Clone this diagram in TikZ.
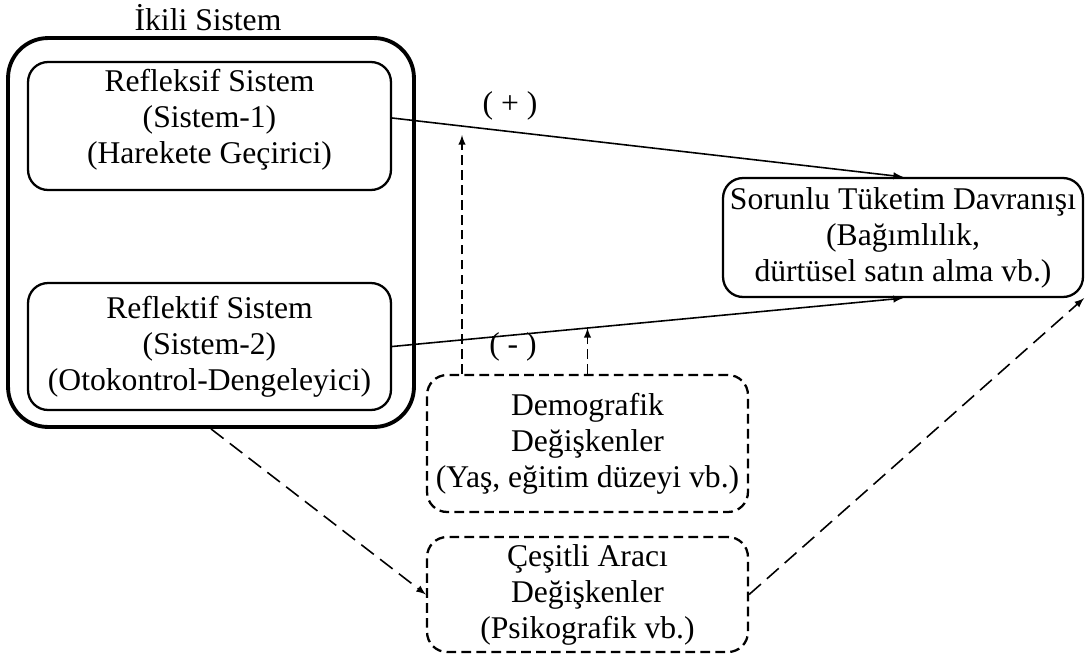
\documentclass[tikz,border=0pt]{standalone}
\usepackage{fontspec}
\setmainfont{Liberation Serif}
\usetikzlibrary{positioning, shapes}

\begin{document}
\begin{tikzpicture}[x=0.02cm, y=-0.02cm, -latex, line width=0.9pt,
      font=\fontsize{18}{20.5}\selectfont,
      box/.style={rectangle, draw, rounded corners=0.4cm, line width=1.3pt,
        align=center, inner sep=0pt, minimum width=7.26cm},
      dbox/.style={box, dash pattern=on 5.5pt off 3pt, minimum width=6.42cm},
      dline/.style={dash pattern=on 9pt off 4.5pt},
      vline/.style={dash pattern=on 5.5pt off 3pt}]
      \useasboundingbox (0,0) rectangle (1087,660);
      % dual system
      \node (title) at(208,18) {İkili Sistem};
      \node[box, line width=2.2pt, rounded corners=0.8cm, minimum width=8.12cm,
        minimum height=7.78cm] (dual) at(211,232.5) {};
      \node[box, minimum height=2.56cm, text depth=11pt] (refl1) at(209.5,126)
        {Refleksif Sistem\\(Sistem-1)\\(Harekete Geçirici)};
      \node[box, minimum height=2.54cm] (refl2) at(209.5,346.5)
        {Reflektif Sistem\\(Sistem-2)\\(Otokontrol-Dengeleyici)};
      % outcome
      \node[box, minimum width=7.2cm, minimum height=2.38cm] (prob) at(903,237.5)
        {Sorunlu Tüketim Davranışı\\(Bağımlılık,\\dürtüsel satın alma vb.)};
      % moderators, mediators
      \node[dbox, minimum height=2.74cm] (demo) at(587.5,443.5)
        {Demografik\\Değişkenler\\(Yaş, eğitim düzeyi vb.)};
      \node[dbox, minimum height=2.3cm] (med) at(587.5,594.5)
        {Çeşitli Aracı\\Değişkenler\\(Psikografik vb.)};
      % paths
      \path ([yshift=0.16cm]refl1.east) edge (prob.north);
      \path (refl2.east) edge (prob.south);
      \node (plus) at(510,106) {( + )};
      \node (minus) at(513,347) {( - )};
      \coordinate (m1) at(462,135);
      \coordinate (m2) at(587.5,328);
      \draw[vline] (demo.north -| m1) -- (m1);
      \draw[vline] (demo.north) -- (m2);
      \draw[dline] (dual.south) -- (med.west);
      \draw[dline] (med.east) -- (prob.south east);
  \end{tikzpicture}
\end{document}
